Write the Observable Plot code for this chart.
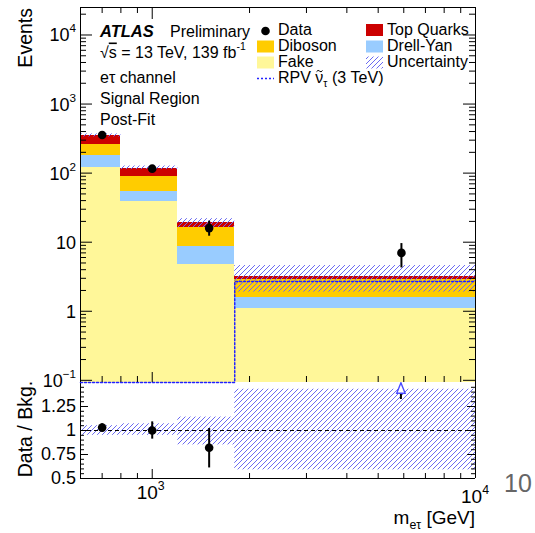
<!DOCTYPE html>
<html><head><meta charset="utf-8">
<script src="https://cdn.jsdelivr.net/npm/d3@7"></script>
<script src="https://cdn.jsdelivr.net/npm/@observablehq/plot@0.6"></script>
<style>
html,body{margin:0;padding:0;background:#fff;}
#chart{position:relative;width:535px;height:533px;overflow:hidden;background:#fff;}
#chart svg{position:absolute;left:0;}
</style></head><body><div id="chart"></div>
<script>
// ---------- data ----------
const binLo = [600, 800, 1200, 1800];
const binHi = [800, 1200, 1800, 10000];
const fake      = [122.6, 39.0, 4.8, 1.09];
const drellYan  = [56.4, 15.0, 4.0, 0.49];
const diboson   = [82.0, 36.8, 7.5, 1.30];
const topQuarks = [91.0, 27.7, 2.9, 0.33];
const uncUp   = [0.05, 0.07, 0.14, 0.43];
const uncDown = [0.05, 0.05, 0.15, 0.41];
const signalRPV = [0.02, 0.03, 0.05, 2.69];
const dataX  = [700, 1000, 1500, 5900];
const dataY  = [356, 116, 16, 7];
const dataLo = [337, 105, 12.2, 4.24];
const dataHi = [375, 127, 20.2, 9.55];
const ratioY  = [1.03, 1.00, 0.82, 2.07];
const ratioLo = [0.99, 0.91, 0.61, 1.4];
const ratioHi = [1.07, 1.09, 1.02, 2.9];
// tick labels
const yTicksTop = [0.1, 1, 10, 100, 1000, 10000];
const yTickBase = ["10", "1", "10", "10", "10", "10"];
const yTickExp  = ["\u22121", "", "", "2", "3", "4"];
const yTicksRat = [0.5, 0.75, 1, 1.25];
const yTickRatLabels = ["0.5", "0.75", "1", "1.25"];
const xTicksMajor = [1000, 10000];
const xTickBase = ["10", "10"];
const xTickExp = ["3", "4"];
const legendNames = ["Data", "Diboson", "Fake", "RPV", "Top Quarks", "Drell-Yan", "Uncertainty"];
const colFake = "#fff799", colDY = "#99ccff", colDiboson = "#ffcc00", colTop = "#cc0000";
const hatchColor = "#6a6af2";

// ---------- layout ----------
const FONT = '"Liberation Sans", Arial, Helvetica, sans-serif';
const W = 535, ML = 80, MR = 60;
const TOP_H = 382, TOP_MT = 7;
const frameW = W - ML - MR;
const frameHTop = TOP_H - TOP_MT;
const RAT_H = 151, RAT_MB = 55, frameHRat = RAT_H - RAT_MB;
const xDomain = [600, 10000];
const yDomain = [0.093, 2.5e4];
const rDomain = [0.5, 1.5];

// ---------- derived tables ----------
const comps = [
  {vals: fake, color: colFake},
  {vals: drellYan, color: colDY},
  {vals: diboson, color: colDiboson},
  {vals: topQuarks, color: colTop}
];
const stackRows = comps.map(() => []);
const totals = binLo.map(() => 0);
binLo.forEach((lo, i) => {
  let cum = 0;
  comps.forEach((c, k) => {
    const v = c.vals[i];
    stackRows[k].push({x1: lo, x2: binHi[i], y1: k === 0 ? yDomain[0] : cum, y2: cum + v});
    cum += v;
  });
  totals[i] = cum;
});
const uncRows = binLo.map((lo, i) => ({x1: lo, x2: binHi[i], y1: totals[i] * (1 - uncDown[i]), y2: totals[i] * (1 + uncUp[i])}));
const uncRatRows = binLo.map((lo, i) => ({x1: lo, x2: binHi[i], y1: 1 - uncDown[i], y2: 1 + uncUp[i]}));
const edges = [...binLo, binHi[binHi.length - 1]];
const sigPts = edges.map((e, i) => ({x: e, y: Math.max(signalRPV[Math.min(i, signalRPV.length - 1)], yDomain[0])}));
const dataRows = dataX.map((x, i) => ({x, y: dataY[i], lo: dataLo[i], hi: dataHi[i]}));
const ratRows = dataX.map((x, i) => ({x, y: ratioY[i], lo: ratioLo[i], hi: ratioHi[i]}));
const ratIn = ratRows.filter(d => d.y <= rDomain[1] && d.y >= rDomain[0]);
const ratOut = ratRows.filter(d => d.y > rDomain[1]);

function minorLog(lo, hi) {
  const out = [];
  for (let e = Math.floor(Math.log10(lo)); e <= Math.ceil(Math.log10(hi)); e++)
    for (let m = 2; m <= 9; m++) { const v = m * Math.pow(10, e); if (v > lo && v < hi) out.push(v); }
  return out;
}
const yMinorTop = minorLog(yDomain[0], yDomain[1]);
const xMinor = minorLog(xDomain[0], xDomain[1]).filter(v => v > xDomain[0]);
const rMinor = d3.range(0.55, 1.5, 0.05).map(v => +v.toFixed(2)).filter(v => !yTicksRat.includes(v));

// ---------- helpers ----------
function rich(g, x, y, parts, o = {}) {
  const size = o.size || 16;
  const t = g.append("text").attr("x", x).attr("y", y).attr("font-size", size)
    .attr("text-anchor", o.anchor || "start").attr("fill", o.fill || "black");
  if (o.weight) t.attr("font-weight", o.weight);
  if (o.style) t.attr("font-style", o.style);
  if (o.rotate) t.attr("transform", `rotate(${o.rotate},${x},${y})`);
  let shift = 0;
  for (const p of parts) {
    const [str, kind] = Array.isArray(p) ? p : [p, null];
    if (!str) continue;
    let target = 0, fs = size;
    if (kind === "sup") { target = -size * 0.5; fs = size * 0.65; }
    if (kind === "sub") { target = size * 0.25; fs = size * 0.65; }
    const ts = t.append("tspan").text(str).attr("font-size", fs);
    if (target - shift !== 0) ts.attr("dy", target - shift);
    if (kind === "over") ts.attr("text-decoration", "overline");
    shift = target;
  }
  return t;
}
function hatchDefs(id) {
  return () => {
    const defs = d3.create("svg:defs");
    const p = defs.append("pattern").attr("id", id).attr("patternUnits", "userSpaceOnUse")
      .attr("width", 5).attr("height", 5);
    p.append("path").attr("d", "M-1,1L1,-1M0,5L5,0M4,6L6,4")
      .attr("stroke", hatchColor).attr("stroke-width", 1).attr("fill", "none");
    return defs.node();
  };
}

// ---------- top panel ----------
function topAnnotations(index, scales) {
  const y = scales.y;
  const g = d3.create("svg:g").attr("font-family", FONT);
  yTicksTop.forEach((v, i) => rich(g, 76, y(v) + 7, [yTickBase[i], [yTickExp[i], "sup"]], {size: 18, anchor: "end"}));
  rich(g, 32, 8, ["Events"], {size: 19.5, anchor: "end", rotate: -90});
  rich(g, 100, 37, ["ATLAS"], {size: 16.5, weight: "bold", style: "italic"});
  rich(g, 170, 37, ["Preliminary"], {size: 16});
  rich(g, 100, 57.5, ["\u221A", ["s", "over"], " = 13 TeV, 139 fb", ["-1", "sup"]], {size: 16});
  rich(g, 100, 83, ["e\u03C4 channel"], {size: 16});
  rich(g, 100, 104, ["Signal Region"], {size: 16});
  rich(g, 100, 124.5, ["Post-Fit"], {size: 16});
  // legend
  const cx = [257, 366], base = [34.5, 51, 67, 83], sw = 17;
  const box = (col, row, fill) => g.append("rect").attr("x", cx[col]).attr("y", base[row] - 10.5)
    .attr("width", sw).attr("height", 12).attr("fill", fill);
  g.append("circle").attr("cx", cx[0] + 8.5).attr("cy", base[0] - 3.5).attr("r", 4.3).attr("fill", "black");
  rich(g, cx[0] + 21, base[0], [legendNames[0]]);
  box(0, 1, colDiboson); rich(g, cx[0] + 21, base[1], [legendNames[1]]);
  box(0, 2, colFake); rich(g, cx[0] + 21, base[2], [legendNames[2]]);
  g.append("line").attr("x1", cx[0]).attr("x2", cx[0] + sw).attr("y1", base[3] - 4.5).attr("y2", base[3] - 4.5)
    .attr("stroke", "#2222ff").attr("stroke-width", 1.5).attr("stroke-dasharray", "2,2");
  rich(g, cx[0] + 21, base[3], [legendNames[3] + " \u03BD", ["\u03C4", "sub"], " (3 TeV)"]);
  // tilde accent over the nu
  const tx = cx[0] + 21 + 16 * 2.334 + 1.2, ty = base[3] - 12.3;
  g.append("path").attr("d", `M${tx},${ty + 1}q1.5,-2.4 3,-0.6t3,-0.6`)
    .attr("fill", "none").attr("stroke", "black").attr("stroke-width", 1);
  box(1, 0, colTop); rich(g, cx[1] + 21, base[0], [legendNames[4]]);
  box(1, 1, colDY); rich(g, cx[1] + 21, base[1], [legendNames[5]]);
  box(1, 2, "url(#hatchTop)"); rich(g, cx[1] + 21, base[2], [legendNames[6]]);
  return g.node();
}

const tickStroke = {stroke: "black", strokeWidth: 1};
const topPlot = Plot.plot({
  width: W, height: TOP_H, marginLeft: ML, marginRight: MR, marginTop: TOP_MT, marginBottom: 0,
  x: {type: "log", domain: xDomain, axis: null},
  y: {type: "log", domain: yDomain, axis: null},
  style: {fontFamily: FONT, background: "transparent", overflow: "visible"},
  marks: [
    hatchDefs("hatchTop"),
    ...comps.map((c, k) => Plot.rect(stackRows[k], {x1: "x1", x2: "x2", y1: "y1", y2: "y2", fill: c.color, shapeRendering: "crispEdges"})),
    Plot.rect(uncRows, {x1: "x1", x2: "x2", y1: "y1", y2: "y2", fill: "url(#hatchTop)"}),
    Plot.line(sigPts, {x: "x", y: "y", curve: "step-after", stroke: "#2222ff", strokeWidth: 1.5, strokeDasharray: "2,2"}),
    Plot.ruleX(dataRows, {x: "x", y1: "lo", y2: "hi", stroke: "black", strokeWidth: 2}),
    Plot.dot(dataRows, {x: "x", y: "y", r: 4.3, fill: "black"}),
    // frame
    Plot.ruleX(xDomain, tickStroke),
    Plot.ruleY([yDomain[1]], tickStroke),
    // ticks
    Plot.tickY(yTicksTop, {...tickStroke, insetRight: frameW - 12}),
    Plot.tickY(yTicksTop, {...tickStroke, insetLeft: frameW - 12}),
    Plot.tickY(yMinorTop, {...tickStroke, insetRight: frameW - 6}),
    Plot.tickY(yMinorTop, {...tickStroke, insetLeft: frameW - 6}),
    Plot.tickX(xTicksMajor, {...tickStroke, insetBottom: frameHTop - 12}),
    Plot.tickX(xMinor, {...tickStroke, insetBottom: frameHTop - 6}),
    Plot.tickX(xTicksMajor, {...tickStroke, insetTop: frameHTop - 10}),
    Plot.tickX(xMinor, {...tickStroke, insetTop: frameHTop - 6}),
    topAnnotations
  ]
});

// ---------- ratio panel ----------
function ratAnnotations(index, scales) {
  const x = scales.x, y = scales.y;
  const g = d3.create("svg:g").attr("font-family", FONT);
  yTicksRat.forEach((v, i) => rich(g, 76, y(v) + 6, [yTickRatLabels[i]], {size: 18, anchor: "end"}));
  rich(g, x(xTicksMajor[0]) - 1, 117, [xTickBase[0], [xTickExp[0], "sup"]], {size: 19, anchor: "middle"});
  rich(g, x(xTicksMajor[1]), 121, [xTickBase[1], [xTickExp[1], "sup"]], {size: 19, anchor: "middle"});
  rich(g, 32, 47, ["Data / Bkg."], {size: 19.5, anchor: "middle", rotate: -90});
  rich(g, W - MR, 142, ["m", ["e\u03C4", "sub"], " [GeV]"], {size: 19, anchor: "end"});
  rich(g, 518, 110, ["10"], {size: 25, anchor: "middle", fill: "#666"});
  // out-of-range arrows
  ratOut.forEach(d => {
    const px = x(d.x);
    g.append("line").attr("x1", px).attr("x2", px).attr("y1", 11).attr("y2", 17).attr("stroke", "black").attr("stroke-width", 2);
    g.append("path").attr("d", `M${px},0.8L${px + 4.2},11.3L${px - 4.2},11.3Z`)
      .attr("fill", "white").attr("stroke", "#4a4aff").attr("stroke-width", 1.4);
  });
  return g.node();
}

const ratPlot = Plot.plot({
  width: W, height: RAT_H, marginLeft: ML, marginRight: MR, marginTop: 0, marginBottom: RAT_MB,
  x: {type: "log", domain: xDomain, axis: null},
  y: {domain: rDomain, axis: null},
  style: {fontFamily: FONT, background: "transparent", overflow: "visible"},
  marks: [
    hatchDefs("hatchRat"),
    Plot.rect(uncRatRows, {x1: "x1", x2: "x2", y1: "y1", y2: "y2", fill: "url(#hatchRat)"}),
    Plot.ruleY([1], {stroke: "black", strokeWidth: 1, strokeDasharray: "4,3"}),
    Plot.ruleX(ratIn, {x: "x", y1: "lo", y2: "hi", stroke: "black", strokeWidth: 2}),
    Plot.dot(ratIn, {x: "x", y: "y", r: 4.3, fill: "black"}),
    Plot.ruleX(xDomain, tickStroke),
    Plot.ruleY([rDomain[0]], tickStroke),
    Plot.tickY(yTicksRat, {...tickStroke, insetRight: frameW - 8}),
    Plot.tickY(yTicksRat, {...tickStroke, insetLeft: frameW - 8}),
    Plot.tickY(rMinor, {...tickStroke, insetRight: frameW - 4}),
    Plot.tickY(rMinor, {...tickStroke, insetLeft: frameW - 4}),
    Plot.tickX(xTicksMajor, {...tickStroke, insetTop: frameHRat - 9}),
    Plot.tickX(xMinor, {...tickStroke, insetTop: frameHRat - 5}),
    ratAnnotations
  ]
});

const chart = document.getElementById("chart");
topPlot.style.top = "0px";
ratPlot.style.top = TOP_H + "px";
chart.appendChild(ratPlot);
chart.appendChild(topPlot);
</script>
</body></html>
